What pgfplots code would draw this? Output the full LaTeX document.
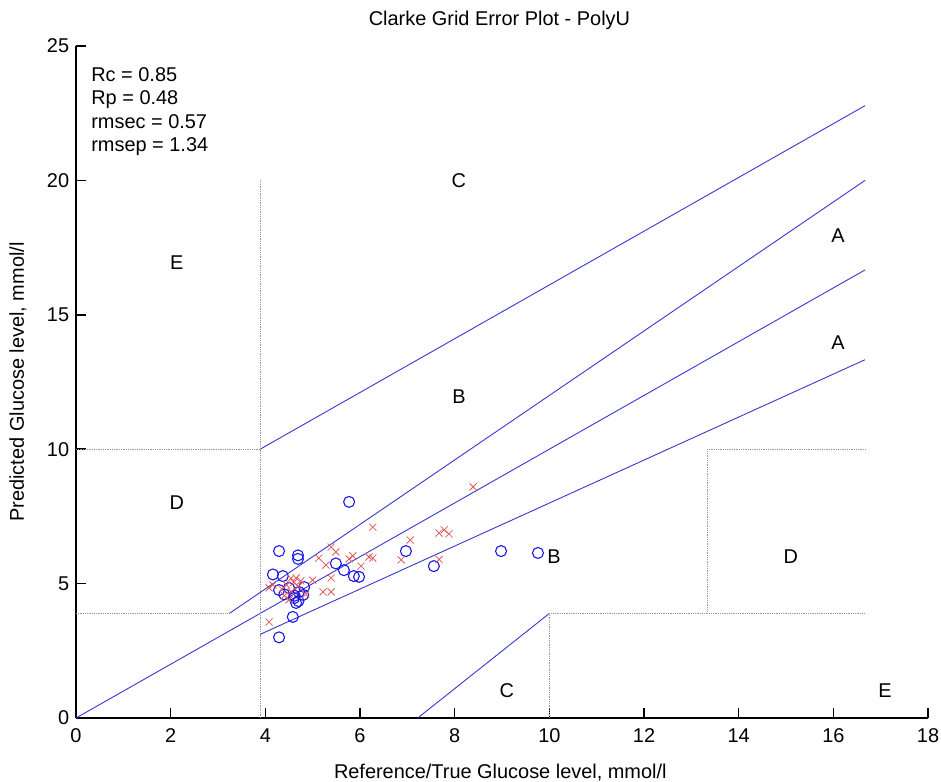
\documentclass[border=0pt]{standalone}
\usepackage{fontspec}
\setmainfont{Liberation Sans}
\usepackage{pgfplots}
\pgfplotsset{compat=1.18}
\definecolor{zline}{RGB}{55,55,210}
\definecolor{circ}{RGB}{25,25,225}
\definecolor{xred}{RGB}{228,90,90}
\definecolor{dotg}{RGB}{150,150,150}
\begin{document}
\fontsize{20}{24}\selectfont
\begin{tikzpicture}
\path[use as bounding box] (-76bp,-64bp) rectangle (865bp,718bp);
\begin{axis}[
  scale only axis, width=852bp, height=672bp,
  xmin=0, xmax=18, ymin=0, ymax=25,
  axis x line*=bottom, axis y line*=left,
  axis line style={-, line width=1.6bp, black},
  xtick={0,2,...,18}, ytick={0,5,...,25},
  tick align=inside, major tick length=10bp,
  tick style={line width=1.6bp, black},
  ticklabel style={font=\fontsize{20}{24}\selectfont},
  xticklabel style={yshift=-4bp},
  /pgf/number format/assume math mode=true,
  clip=false,
]
% Clarke grid lines
\addplot[zline, line width=0.9bp] coordinates {(0,0) (16.67,16.67)};
\addplot[zline, line width=0.9bp] coordinates {(3.24,3.89) (16.67,20)};
\addplot[zline, line width=0.9bp] coordinates {(3.89,3.11) (16.67,13.33)};
\addplot[zline, line width=0.9bp] coordinates {(3.89,10) (16.67,22.78)};
\addplot[zline, line width=0.9bp] coordinates {(7.22,0) (10,3.89)};
% dotted boundaries
\addplot[dotg, densely dotted, line width=0.8bp] coordinates {(3.89,0) (3.89,20)};
\addplot[dotg, densely dotted, line width=0.8bp] coordinates {(0,10) (3.89,10)};
\addplot[dotg, densely dotted, line width=0.8bp] coordinates {(0,3.89) (3.24,3.89)};
\addplot[dotg, densely dotted, line width=0.8bp] coordinates {(10,0) (10,3.89)};
\addplot[dotg, densely dotted, line width=0.8bp] coordinates {(10,3.89) (16.67,3.89)};
\addplot[dotg, densely dotted, line width=0.8bp] coordinates {(13.33,3.89) (13.33,10)};
\addplot[dotg, densely dotted, line width=0.8bp] coordinates {(13.33,10) (16.67,10)};
% calibration (circles)
\addplot[only marks, mark=o, mark size=5.5bp, circ, mark options={line width=1.1bp}] coordinates {
(5.77,8.04) (4.29,6.21) (4.69,6.05) (4.69,5.92) (6.97,6.21) (8.98,6.21)
(9.76,6.14) (7.56,5.65) (4.16,5.34) (4.37,5.28) (5.49,5.75) (5.66,5.50)
(5.87,5.28) (5.98,5.25) (4.29,4.76) (4.50,4.84) (4.71,4.69) (4.82,4.87)
(4.61,4.46) (4.65,4.28) (4.58,3.76) (4.29,3.00) (4.40,4.60) (4.62,4.55)
(4.80,4.58) (4.70,4.35)
};
% prediction (crosses)
\addplot[only marks, mark=x, mark size=5bp, xred, mark options={line width=0.8bp}] coordinates {
(6.27,7.10) (7.06,6.62) (6.87,5.88) (8.39,8.60) (7.67,6.88) (7.78,7.00)
(7.88,6.85) (7.67,5.90) (5.39,6.36) (5.49,6.18) (5.13,5.95) (5.28,5.69)
(5.77,5.92) (5.85,6.03) (6.19,5.99) (6.27,5.95) (6.02,5.65) (4.65,5.21)
(5.00,5.13) (5.39,5.21) (5.22,4.69) (5.39,4.69) (4.08,4.84) (4.16,4.95)
(4.08,3.57) (4.35,4.80) (4.45,4.95) (4.55,4.70) (4.70,4.90) (4.75,5.10)
(4.60,5.05) (4.40,4.55) (4.85,4.60) (4.50,4.40) (4.54,5.20)
};
% zone labels
\node at (axis cs:2.13,16.93) {E};
\node at (axis cs:8.09,19.98) {C};
\node at (axis cs:16.1,17.93) {A};
\node at (axis cs:16.1,13.95) {A};
\node at (axis cs:8.09,11.94) {B};
\node at (axis cs:2.13,8.0) {D};
\node at (axis cs:10.1,5.99) {B};
\node at (axis cs:15.1,5.99) {D};
\node at (axis cs:9.1,1.0) {C};
\node at (axis cs:17.09,1.0) {E};
% statistics
\node[anchor=north west, align=left, inner sep=0pt, font=\fontsize{20}{23.3}\selectfont] at (axis cs:0.32,24.2)
  {Rc = 0.85\\Rp = 0.48\\rmsec = 0.57\\rmsep = 1.34};
% title and axis labels
\node at (rel axis cs:0.497,1) [yshift=26bp] {Clarke Grid Error Plot - PolyU};
\node at (rel axis cs:0.498,0) [yshift=-55bp] {Reference/True Glucose level, mmol/l};
\node[rotate=90] at (rel axis cs:0,0.5) [yshift=58bp] {Predicted Glucose level, mmol/l};
\end{axis}
\end{tikzpicture}
\end{document}
